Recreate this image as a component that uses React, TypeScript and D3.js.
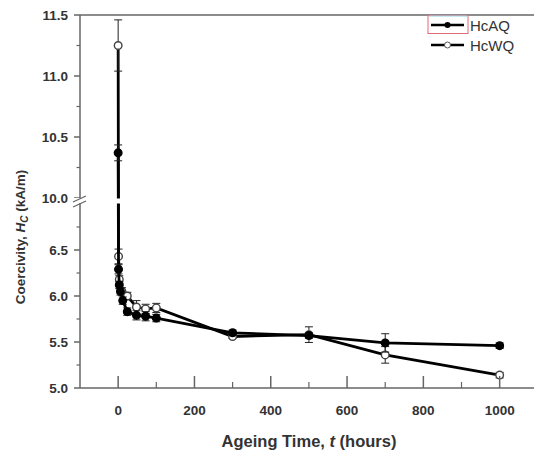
import React from 'react';
import * as d3 from 'd3';

// ageing time (hours) and coercivity (kA/m)
const timeAQ = [0, 1, 3, 6, 12, 24, 48, 72, 100, 300, 500, 700, 1000];
const hcAQ = [10.37, 6.29, 6.12, 6.05, 5.95, 5.83, 5.79, 5.78, 5.76, 5.6, 5.57, 5.49, 5.46];
const errAQ = [0.065, 0.05, 0.04, 0.04, 0.04, 0.04, 0.05, 0.05, 0.04, 0.03, 0.03, 0.1, 0.03];

const timeWQ = [0, 1, 3, 10, 24, 48, 72, 100, 300, 500, 700, 1000];
const hcWQ = [11.25, 6.43, 6.18, 6.05, 6.0, 5.88, 5.86, 5.87, 5.56, 5.58, 5.36, 5.14];
const errWQ = [0.21, 0.08, 0.04, 0.04, 0.04, 0.07, 0.05, 0.05, 0.02, 0.085, 0.09, 0.03];

const xTicks = [0, 200, 400, 600, 800, 1000];
const xMinor = [100, 300, 500, 700, 900];
const yLowTicks = [5.0, 5.5, 6.0, 6.5];
const yLowMinor = [5.25, 5.75, 6.25, 6.75];
const yHighTicks = [10.0, 10.5, 11.0, 11.5];
const yHighMinor = [10.25, 10.75, 11.25];

const W = 534;
const H = 455;
const left = 80;
const right = 534;
const top = 15;
const bottom = 388;

const x = d3.scaleLinear().domain([-100, 1090]).range([left, right]);
const yLow = d3.scaleLinear().domain([5, 7]).range([bottom, 204]);
const yHigh = d3.scaleLinear().domain([10, 11.5]).range([198, top]);
const y = (v: number) => (v >= 8 ? yHigh(v) : yLow(v));

const axisColor = '#666';
const textColor = '#333';
const font = 'Liberation Sans, Arial, sans-serif';

function Series({ t, v, err, filled }: { t: number[]; v: number[]; err: number[]; filled: boolean }) {
  const pts = t.map((d, i) => [x(d), y(v[i])] as [number, number]);
  const line = d3.line();
  return (
    <g>
      <path d={line(pts) || ''} fill="none" stroke="#000" strokeWidth={2.8} />
      {t.map((d, i) => {
        const cx = x(d);
        const y1 = y(v[i] + err[i]);
        const y2 = y(v[i] - err[i]);
        return (
          <g key={i} stroke="#222" strokeWidth={1}>
            <line x1={cx} x2={cx} y1={y1} y2={y2} />
            <line x1={cx - 4} x2={cx + 4} y1={y1} y2={y1} />
            <line x1={cx - 4} x2={cx + 4} y1={y2} y2={y2} />
          </g>
        );
      })}
      {pts.map((p, i) => (
        <circle key={i} cx={p[0]} cy={p[1]} r={3.8} fill={filled ? '#000' : '#fff'} stroke={filled ? '#000' : '#444'} strokeWidth={1.4} />
      ))}
    </g>
  );
}

export default function App() {
  return (
    <svg width={W} height={H} style={{ position: 'absolute', left: 0, top: 0, background: '#fff' }} fontFamily={font}>
      <rect width={W} height={H} fill="#fff" />

      <Series t={timeWQ} v={hcWQ} err={errWQ} filled={false} />
      <Series t={timeAQ} v={hcAQ} err={errAQ} filled={true} />

      {/* break gap */}
      <rect x={left + 1} y={198.5} width={right - left} height={5} fill="#fff" />

      {/* axes */}
      <line x1={left} x2={left} y1={top} y2={bottom} stroke={axisColor} strokeWidth={1.5} />
      <line x1={left} x2={right} y1={bottom} y2={bottom} stroke={axisColor} strokeWidth={1.5} />
      <line x1={left} x2={right} y1={top} y2={top} stroke={axisColor} strokeWidth={1.5} />

      {xTicks.map((d) => (
        <g key={d}>
          <line x1={x(d)} x2={x(d)} y1={bottom} y2={bottom - 12} stroke={axisColor} strokeWidth={1.5} />
          <text x={x(d)} y={415} textAnchor="middle" fontSize={13.5} fontWeight="bold" fill={textColor}>{d}</text>
        </g>
      ))}
      {xMinor.map((d) => (
        <line key={d} x1={x(d)} x2={x(d)} y1={bottom} y2={bottom - 6} stroke={axisColor} strokeWidth={1.2} />
      ))}

      {[...yLowTicks.map((d) => [d, yLow(d)]), ...yHighTicks.map((d) => [d, yHigh(d)])].map(([d, py]) => (
        <g key={d}>
          <line x1={left - 6} x2={left} y1={py} y2={py} stroke={axisColor} strokeWidth={1.5} />
          <text x={68} y={py + 5} textAnchor="end" fontSize={13.5} fontWeight="bold" fill={textColor}>{d.toFixed(1)}</text>
        </g>
      ))}
      {[...yLowMinor.map((d) => yLow(d)), ...yHighMinor.map((d) => yHigh(d))].map((py, i) => (
        <line key={i} x1={left - 3.5} x2={left} y1={py} y2={py} stroke={axisColor} strokeWidth={1.2} />
      ))}

      {/* axis break marks */}
      <rect x={left - 6} y={198} width={12} height={5} fill="#fff" />
      <line x1={left - 7} x2={left + 6} y1={202} y2={196} stroke={axisColor} strokeWidth={1.3} />
      <line x1={left - 7} x2={left + 6} y1={207} y2={201} stroke={axisColor} strokeWidth={1.3} />

      {/* axis titles */}
      <text x={309} y={447} textAnchor="middle" fontSize={16.5} fontWeight="bold" fill={textColor}>
        Ageing Time, <tspan fontStyle="italic">t</tspan> (hours)
      </text>
      <text transform="translate(25,237) rotate(-90)" textAnchor="middle" fontSize={13.5} fontWeight="bold" fill={textColor}>
        Coercivity, <tspan fontStyle="italic">H</tspan><tspan fontStyle="italic" fontSize={10} dy={3}>C</tspan><tspan dy={-3}> (kA/m)</tspan>
      </text>

      {/* legend */}
      <rect x={428} y={15.5} width={40} height={18} fill="none" stroke="#e06a78" strokeWidth={1} />
      <line x1={429} x2={467} y1={16} y2={16} stroke="#8fd8e8" strokeWidth={1.2} />
      <line x1={431} x2={464} y1={25} y2={25} stroke="#000" strokeWidth={2.4} />
      <circle cx={447.5} cy={25} r={3} fill="#000" />
      <text x={470} y={30.5} fontSize={15} fill={textColor}>HcAQ</text>
      <line x1={431} x2={464} y1={45} y2={45} stroke="#000" strokeWidth={2.4} />
      <circle cx={447.5} cy={45} r={3} fill="#fff" stroke="#555" strokeWidth={1} />
      <text x={470} y={50.5} fontSize={15} fill={textColor}>HcWQ</text>
    </svg>
  );
}
